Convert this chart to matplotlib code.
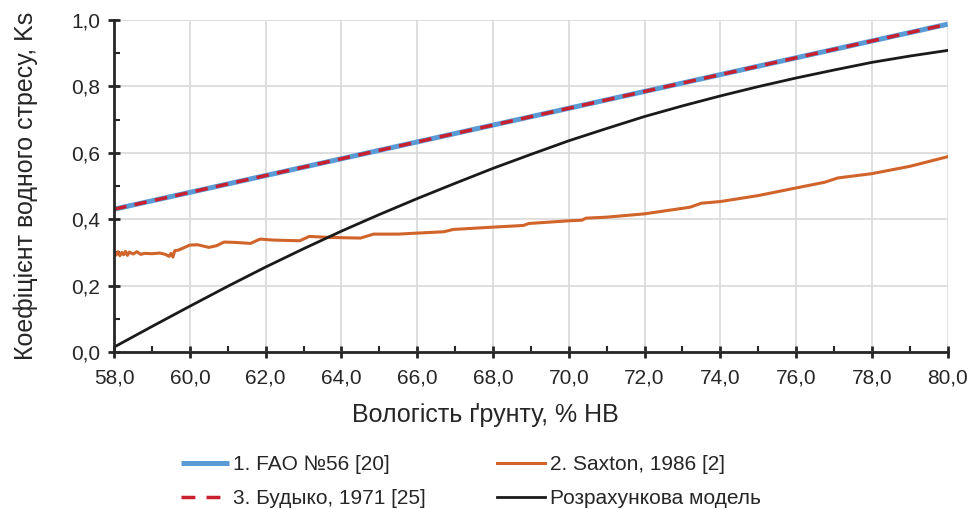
import matplotlib
matplotlib.use("Agg")
import matplotlib.pyplot as plt
from matplotlib.lines import Line2D
from matplotlib.ticker import MultipleLocator, FuncFormatter

plt.rcParams["font.family"] = ["Liberation Sans", "DejaVu Sans"]

# Moisture, % of field capacity (HB)
x_lin = [58.0, 80.0]
fao56 = [0.430, 0.987]
budyko = [0.430, 0.987]

x_saxton = [58.0, 58.05, 58.1, 58.15, 58.2, 58.25, 58.3, 58.35, 58.4, 58.5, 58.6, 58.7,
            58.8, 59.0, 59.2, 59.35, 59.45, 59.5, 59.55, 59.6, 59.7, 60.0, 60.2, 60.5,
            60.7, 60.9, 61.2, 61.6, 61.85, 62.2, 62.9, 63.15, 63.7, 64.5, 64.85, 65.5,
            66.0, 66.7, 66.95, 68.0, 68.8, 68.95, 70.0, 70.35, 70.45, 71.0, 72.0, 73.2,
            73.5, 74.0, 75.0, 76.0, 76.75, 77.1, 78.0, 79.0, 80.0]
saxton = [0.300, 0.292, 0.302, 0.290, 0.300, 0.293, 0.303, 0.291, 0.301, 0.295, 0.302, 0.294,
          0.297, 0.296, 0.298, 0.294, 0.288, 0.297, 0.286, 0.305, 0.307, 0.322, 0.323, 0.315,
          0.320, 0.331, 0.330, 0.327, 0.340, 0.337, 0.335, 0.348, 0.345, 0.343, 0.355, 0.355,
          0.358, 0.362, 0.369, 0.376, 0.381, 0.387, 0.395, 0.397, 0.403, 0.406, 0.416, 0.436,
          0.448, 0.453, 0.471, 0.494, 0.511, 0.524, 0.537, 0.559, 0.588]

x_model = [58, 59, 60, 61, 62, 63, 64, 65, 66, 67, 68, 69, 70, 71, 72, 73, 74, 75, 76, 77, 78, 79, 80]
model = [0.015, 0.077, 0.138, 0.198, 0.256, 0.311, 0.364, 0.414, 0.462, 0.508, 0.553, 0.595,
         0.636, 0.673, 0.709, 0.741, 0.771, 0.799, 0.825, 0.849, 0.872, 0.891, 0.908]

labels = ["1. FAO №56 [20]", "2. Saxton, 1986 [2]", "3. Будыко, 1971 [25]", "Розрахункова модель"]

fig = plt.figure(figsize=(9.7, 5.09), dpi=100)
ax = fig.add_axes([0.1177, 0.3084, 0.8593, 0.6526])

l1, = ax.plot(x_lin, fao56, color="#5B9BD5", lw=3.6, solid_capstyle="butt")
l2, = ax.plot(x_saxton, saxton, color="#D0642A", lw=2.2)
l3, = ax.plot(x_lin, budyko, color="#C8202F", lw=2.5, dashes=(3.6, 2.4))
l4, = ax.plot(x_model, model, color="#1A1A1A", lw=2.0)

ax.set_xlim(58, 80)
ax.set_ylim(0, 1.0)
ax.xaxis.set_major_locator(MultipleLocator(2))
ax.xaxis.set_minor_locator(MultipleLocator(1))
ax.yaxis.set_major_locator(MultipleLocator(0.2))
ax.yaxis.set_minor_locator(MultipleLocator(0.1))
comma = FuncFormatter(lambda v, p: f"{v:.1f}".replace(".", ","))
ax.xaxis.set_major_formatter(comma)
ax.yaxis.set_major_formatter(comma)

ax.grid(True, which="major", color="#D9D9D9", lw=1.2)
ax.set_axisbelow(True)
for s in ["top", "right"]:
    ax.spines[s].set_visible(False)
for s in ["left", "bottom"]:
    ax.spines[s].set_color("#262626")
    ax.spines[s].set_linewidth(2)

ax.tick_params(which="major", direction="inout", length=8, width=2, color="#262626",
               labelsize=15, labelcolor="#262626")
ax.tick_params(which="minor", direction="in", length=4, width=1.5, color="#262626")
ax.tick_params(axis="x", which="major", pad=8)
ax.tick_params(axis="y", which="major", pad=6)

# x title sits at the figure centre, not the axes centre
fig.text(0.5, 0.185, "Вологість ґрунту, % НВ", fontsize=18, color="#262626",
         ha="center", va="center")
ax.set_ylabel("Коефіцієнт водного стресу, Ks", fontsize=18, color="#262626", labelpad=24)

# legend shows longer dashes than the plotted line
l3_key = Line2D([], [], color="#C8202F", lw=2.5, dashes=(4.0, 3.2))

# matplotlib fills legend column by column, so order handles for row-wise reading
fig.legend([l1, l3_key, l2, l4], [labels[0], labels[2], labels[1], labels[3]],
           loc="upper left", bbox_to_anchor=(0.1863, 0.106), ncol=2,
           frameon=False, fontsize=15, handlelength=2.3, handletextpad=0.2,
           columnspacing=3.45, labelspacing=0.71, borderpad=0, borderaxespad=0,
           labelcolor="#262626")

fig.savefig("out.png", dpi=100)
